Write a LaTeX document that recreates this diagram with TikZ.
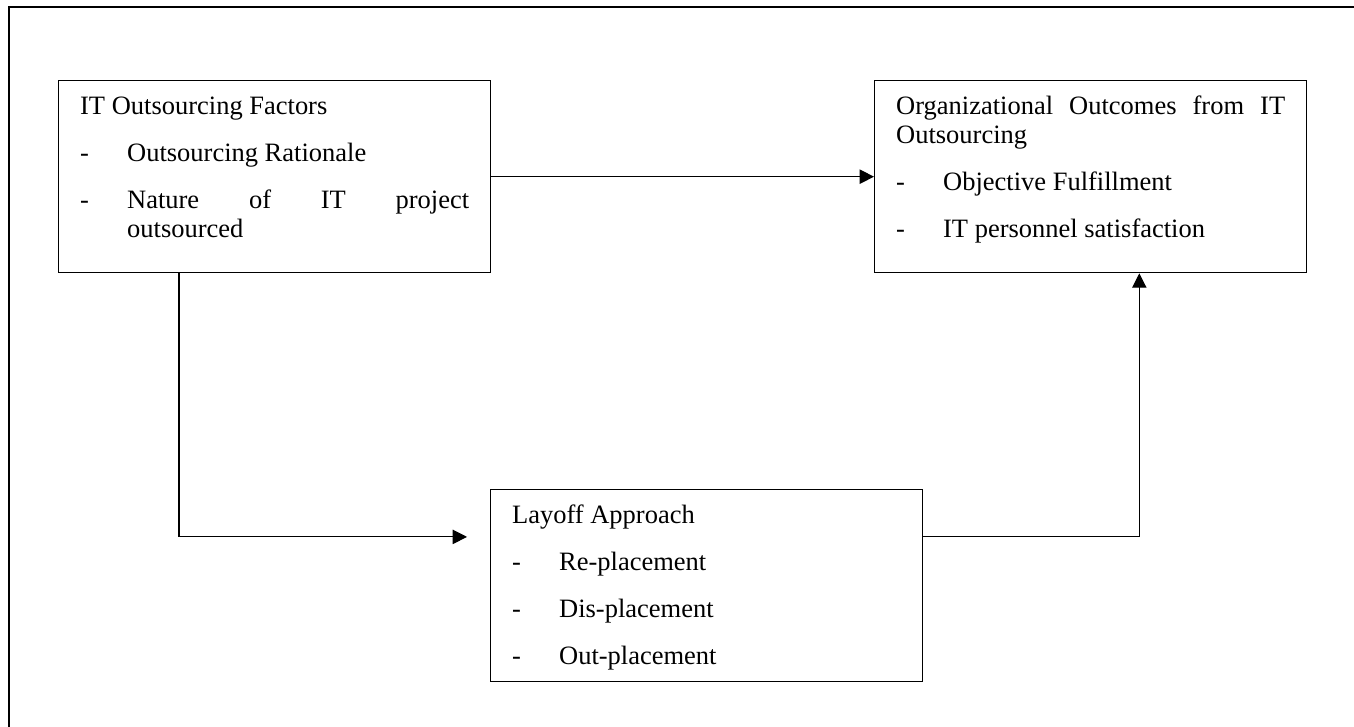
\documentclass[tikz,border=0pt]{standalone}
\usepackage{fontspec}
\setmainfont{Liberation Serif}
\usetikzlibrary{arrows.meta}
\tolerance=10000
\hbadness=10000
\newcommand{\boxfont}{\fontsize{12pt}{13.14pt}\selectfont}
\newcommand{\dashitem}[1]{\par\vspace{8.15pt}\noindent\hangindent=21.3pt\makebox[21.3pt][l]{-}#1\par}
\begin{document}
\begin{tikzpicture}[x=0.453pt, y=-0.453pt, >={Triangle[length=6.5pt,width=6.5pt]},
    box/.style={draw, line width=0.6pt, anchor=north west, align=justify,
      text width=176.2pt, inner xsep=9.74pt, inner ysep=0pt,
      text height=15.2pt, text depth=71.8pt, font=\boxfont},
    link/.style={->, line width=0.5pt}]
  \useasboundingbox (0,0) rectangle (1354,727);
  \draw [line width=0.9pt] (9,760)--(9,7)--(1380,7);
  \node [box] (fac) at (58,80) {IT Outsourcing Factors\dashitem{Outsourcing Rationale}\dashitem{Nature of IT project\linebreak outsourced}};
  \node [box] (out) at (874,80) {Organizational Outcomes from IT Outsourcing\dashitem{Objective Fulfillment}\dashitem{IT personnel satisfaction}};
  \node [box] (lay) at (490,489) {Layoff Approach\dashitem{Re-placement}\dashitem{Dis-placement}\dashitem{Out-placement}};
  \draw [link] (fac)--(out);
  \draw [link] ([xshift=54.8pt]fac.south west) |- ([xshift=-10.4pt,yshift=-21.7pt]lay.north west);
  \draw [link] ([yshift=-21.7pt]lay.north east) -| ([xshift=-76.1pt]out.south east);
\end{tikzpicture}
\end{document}
